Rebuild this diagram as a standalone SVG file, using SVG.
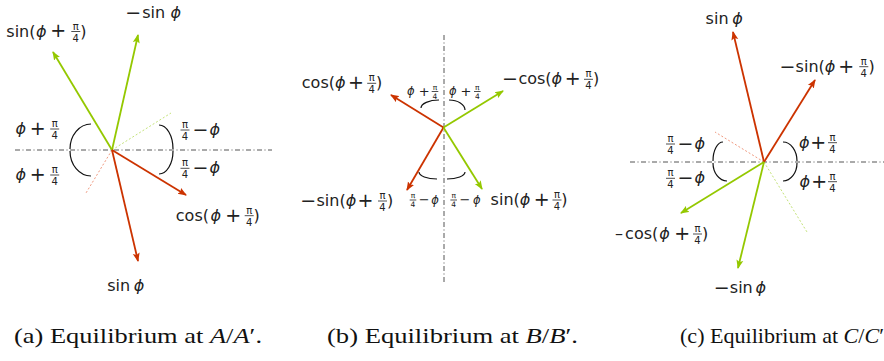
<svg xmlns="http://www.w3.org/2000/svg" width="884" height="361" viewBox="0 0 884 361">
<style>
.t{font-family:"DejaVu Sans",sans-serif;fill:#222;font-size:16px}
.i{font-style:italic}
.op{font-size:19px;text-anchor:middle}
.fr{font-size:10px;text-anchor:middle}
.st{font-size:11.5px}
.sop{font-size:13px;text-anchor:middle}
.sfr{font-size:7.5px;text-anchor:middle}
.bar{stroke:#222;stroke-width:0.8}
.axis{stroke:#555;stroke-width:1;stroke-dasharray:5 2.5 1 2.5;fill:none}
.r{stroke:#cc3300;stroke-width:1.8;fill:none;marker-end:url(#hr)}
.g{stroke:#94c800;stroke-width:1.8;fill:none;marker-end:url(#hg)}
.dr{stroke:#f09a80;stroke-width:1;stroke-dasharray:2 2;fill:none}
.dg{stroke:#c4e37a;stroke-width:1;stroke-dasharray:2 2;fill:none}
.arc{stroke:#111;stroke-width:1.2;fill:none}
.cap{font-family:"Liberation Serif",serif;font-size:22px;fill:#111}
</style>
<defs>
<marker id="hr" markerUnits="userSpaceOnUse" markerWidth="10" markerHeight="8" refX="8" refY="3.5" orient="auto" viewBox="0 0 10 7"><path d="M0,0 L9,3.5 L0,7 L1.8,3.5 z" fill="#cc3300"/></marker>
<marker id="hg" markerUnits="userSpaceOnUse" markerWidth="10" markerHeight="8" refX="8" refY="3.5" orient="auto" viewBox="0 0 10 7"><path d="M0,0 L9,3.5 L0,7 L1.8,3.5 z" fill="#94c800"/></marker>
</defs>

<!-- Panel A -->
<g id="panel-a">
<g id="a-guides">
<line class="axis" x1="15" y1="150" x2="272" y2="150"/>
<line class="dg" x1="112" y1="150" x2="171" y2="113"/>
<line class="dr" x1="112" y1="150" x2="86" y2="193"/>
<path class="arc" d="M91,124 A21,25 0 0 0 70,149"/>
<path class="arc" d="M70,151 A21,25 0 0 0 91,176"/>
<path class="arc" d="M159,125 A14,24 0 0 1 173,149"/>
<path class="arc" d="M173,151 A14,23 0 0 1 159,174"/>
</g>
<g id="a-connectors">
<line class="g" x1="112" y1="150" x2="53" y2="52"/>
<line class="g" x1="112" y1="150" x2="138" y2="35"/>
<line class="r" x1="112" y1="150" x2="186" y2="195"/>
<line class="r" x1="112" y1="150" x2="138" y2="261"/>
</g>
<g id="a-lbl-sin-phi-pi4">
<text class="t" x="6.3" y="36.5">sin(<tspan class="i" dx="0.5">ϕ</tspan></text><text class="t op" x="58.3" y="37.45">+</text>
<text class="t fr" x="75.8" y="29.5">π</text><line class="bar" x1="71.3" y1="31.5" x2="80.3" y2="31.5"/><text class="t fr" x="75.8" y="41.5">4</text>
<text class="t" x="80.3" y="36.5">)</text>
</g>
<g id="a-lbl-neg-sin-phi">
<text class="t op" x="133.3" y="18.95">−</text><text class="t" x="142.2" y="18">sin</text><text class="t i" x="170.5" y="18">ϕ</text>
</g>
<g id="a-lbl-angle-ul">
<text class="t i" x="15.5" y="134">ϕ</text><text class="t op" x="37.8" y="134.95">+</text>
<text class="t fr" x="54.7" y="127">π</text><line class="bar" x1="50.2" y1="129" x2="59.2" y2="129"/><text class="t fr" x="54.7" y="139">4</text>
</g>
<g id="a-lbl-angle-ll">
<text class="t i" x="15.5" y="180">ϕ</text><text class="t op" x="37.8" y="180.95">+</text>
<text class="t fr" x="54.7" y="173">π</text><line class="bar" x1="50.2" y1="175" x2="59.2" y2="175"/><text class="t fr" x="54.7" y="185">4</text>
</g>
<g id="a-lbl-angle-ur">
<text class="t fr" x="185" y="128">π</text><line class="bar" x1="180.5" y1="130" x2="189.5" y2="130"/><text class="t fr" x="185" y="140">4</text>
<text class="t op" x="200.5" y="135.95">−</text><text class="t i" x="209.5" y="135">ϕ</text>
</g>
<g id="a-lbl-angle-lr">
<text class="t fr" x="185" y="166.3">π</text><line class="bar" x1="180.5" y1="168.3" x2="189.5" y2="168.3"/><text class="t fr" x="185" y="178.3">4</text>
<text class="t op" x="200.5" y="174.25">−</text><text class="t i" x="209.5" y="173.3">ϕ</text>
</g>
<g id="a-lbl-cos-phi-pi4">
<text class="t" x="175.8" y="220.7">cos(<tspan class="i" dx="1.5">ϕ</tspan></text><text class="t op" x="233.3" y="221.65">+</text>
<text class="t fr" x="249.2" y="213.7">π</text><line class="bar" x1="244.7" y1="215.7" x2="253.7" y2="215.7"/><text class="t fr" x="249.2" y="225.7">4</text>
<text class="t" x="253.6" y="220.7">)</text>
</g>
<g id="a-lbl-sin-phi">
<text class="t" x="107.2" y="290.5">sin</text><text class="t i" x="133.8" y="290.5">ϕ</text>
</g>
</g>

<!-- Panel B -->
<g id="panel-b">
<g id="b-guides">
<line class="axis" x1="444" y1="35" x2="444" y2="283"/>
<path class="arc" d="M421,108 A18,8 0 0 1 439,100"/>
<path class="arc" d="M449,100 A16,10 0 0 1 465,110"/>
<path class="arc" d="M419,172 A18,7 0 0 0 437,179"/>
<path class="arc" d="M447,179 A18,7 0 0 0 465,172"/>
</g>
<g id="b-connectors">
<line class="r" x1="443.5" y1="127.5" x2="391" y2="95"/>
<line class="g" x1="443.5" y1="127.5" x2="503" y2="91"/>
<line class="r" x1="443.5" y1="127.5" x2="407" y2="190"/>
<line class="g" x1="443.5" y1="127.5" x2="482" y2="189"/>
</g>
<g id="b-lbl-cos-phi-pi4">
<text class="t" x="301.8" y="88.3">cos(<tspan class="i">ϕ</tspan></text><text class="t op" x="356" y="89.25">+</text>
<text class="t fr" x="371.7" y="81.3">π</text><line class="bar" x1="367.2" y1="83.3" x2="376.2" y2="83.3"/><text class="t fr" x="371.7" y="93.3">4</text>
<text class="t" x="376" y="88.3">)</text>
</g>
<g id="b-lbl-angle-ul">
<text class="t st i" x="407" y="95">ϕ</text><text class="t sop" x="424.3" y="95.6">+</text>
<text class="t sfr" x="435" y="89.7">π</text><line class="bar" x1="431.7" y1="91.5" x2="438.3" y2="91.5"/><text class="t sfr" x="435" y="98.6">4</text>
</g>
<g id="b-lbl-angle-ur">
<text class="t st i" x="449" y="95">ϕ</text><text class="t sop" x="466" y="95.6">+</text>
<text class="t sfr" x="477.3" y="89.7">π</text><line class="bar" x1="474" y1="91.5" x2="480.6" y2="91.5"/><text class="t sfr" x="477.3" y="98.6">4</text>
</g>
<g id="b-lbl-neg-cos-phi-pi4">
<text class="t op" x="510" y="85.25">−</text><text class="t" x="518.4" y="84.3">cos(<tspan class="i">ϕ</tspan></text><text class="t op" x="572.7" y="85.25">+</text>
<text class="t fr" x="588.5" y="77.3">π</text><line class="bar" x1="584" y1="79.3" x2="593" y2="79.3"/><text class="t fr" x="588.5" y="89.3">4</text>
<text class="t" x="593" y="84.3">)</text>
</g>
<g id="b-lbl-neg-sin-phi-pi4">
<text class="t op" x="308.3" y="206.95">−</text><text class="t" x="316.5" y="206">sin(<tspan class="i">ϕ</tspan></text><text class="t op" x="365.5" y="206.95">+</text>
<text class="t fr" x="382.5" y="199">π</text><line class="bar" x1="378" y1="201" x2="387" y2="201"/><text class="t fr" x="382.5" y="211">4</text>
<text class="t" x="387" y="206">)</text>
</g>
<g id="b-lbl-angle-ll">
<text class="t sfr" x="413" y="198.2">π</text><line class="bar" x1="409.7" y1="200" x2="416.3" y2="200"/><text class="t sfr" x="413" y="207.1">4</text>
<text class="t sop" x="424.2" y="204.1">−</text><text class="t st i" x="431.3" y="203.5">ϕ</text>
</g>
<g id="b-lbl-angle-lr">
<text class="t sfr" x="453.7" y="198.2">π</text><line class="bar" x1="450.4" y1="200" x2="457" y2="200"/><text class="t sfr" x="453.7" y="207.1">4</text>
<text class="t sop" x="465" y="204.1">−</text><text class="t st i" x="473" y="203.5">ϕ</text>
</g>
<g id="b-lbl-sin-phi-pi4">
<text class="t" x="490.6" y="205">sin(<tspan class="i">ϕ</tspan></text><text class="t op" x="541.7" y="205.95">+</text>
<text class="t fr" x="557" y="198">π</text><line class="bar" x1="552.5" y1="200" x2="561.5" y2="200"/><text class="t fr" x="557" y="210">4</text>
<text class="t" x="561.3" y="205">)</text>
</g>
</g>

<!-- Panel C -->
<g id="panel-c">
<g id="c-guides">
<line class="axis" x1="630" y1="162" x2="884" y2="162"/>
<line class="dr" x1="764" y1="162" x2="715" y2="132"/>
<line class="dg" x1="764" y1="162" x2="807" y2="232"/>
<path class="arc" d="M723,142 A10,19 0 0 0 713,161"/>
<path class="arc" d="M713,163 A14,18 0 0 0 727,181"/>
<path class="arc" d="M783,142 A14,19 0 0 1 797,161"/>
<path class="arc" d="M797,163 A14,18 0 0 1 783,181"/>
</g>
<g id="c-connectors">
<line class="r" x1="764" y1="162" x2="733" y2="32"/>
<line class="r" x1="764" y1="162" x2="815" y2="80"/>
<line class="g" x1="764" y1="162" x2="681" y2="213"/>
<line class="g" x1="764" y1="162" x2="738" y2="268"/>
</g>
<g id="c-lbl-sin-phi">
<text class="t" x="705.6" y="24">sin</text><text class="t i" x="732.3" y="24">ϕ</text>
</g>
<g id="c-lbl-neg-sin-phi-pi4">
<text class="t op" x="787.5" y="72.65">−</text><text class="t" x="795.6" y="71.7">sin(<tspan class="i">ϕ</tspan></text><text class="t op" x="846.3" y="72.65">+</text>
<text class="t fr" x="863.8" y="64.7">π</text><line class="bar" x1="859.3" y1="66.7" x2="868.3" y2="66.7"/><text class="t fr" x="863.8" y="76.7">4</text>
<text class="t" x="868.6" y="71.7">)</text>
</g>
<g id="c-lbl-angle-ul">
<text class="t fr" x="670.5" y="142">π</text><line class="bar" x1="666" y1="144" x2="675" y2="144"/><text class="t fr" x="670.5" y="154">4</text>
<text class="t op" x="685.5" y="149.95">−</text><text class="t i" x="694.5" y="149">ϕ</text>
</g>
<g id="c-lbl-angle-ur">
<text class="t i" x="799" y="147.7">ϕ</text><text class="t op" x="818.3" y="148.65">+</text>
<text class="t fr" x="832.5" y="140.7">π</text><line class="bar" x1="828" y1="142.7" x2="837" y2="142.7"/><text class="t fr" x="832.5" y="152.7">4</text>
</g>
<g id="c-lbl-angle-ll">
<text class="t fr" x="670.5" y="176.3">π</text><line class="bar" x1="666" y1="178.3" x2="675" y2="178.3"/><text class="t fr" x="670.5" y="188.3">4</text>
<text class="t op" x="685.5" y="184.25">−</text><text class="t i" x="694.5" y="183.3">ϕ</text>
</g>
<g id="c-lbl-angle-lr">
<text class="t i" x="799.5" y="186.7">ϕ</text><text class="t op" x="819.3" y="187.65">+</text>
<text class="t fr" x="832.5" y="179.7">π</text><line class="bar" x1="828" y1="181.7" x2="837" y2="181.7"/><text class="t fr" x="832.5" y="191.7">4</text>
</g>
<g id="c-lbl-neg-cos-phi-pi4">
<text class="t" x="619" y="239" text-anchor="middle">–</text><text class="t" x="625.1" y="239">cos(<tspan class="i" dx="1">ϕ</tspan></text><text class="t op" x="682.2" y="239.95">+</text>
<text class="t fr" x="697.5" y="232">π</text><line class="bar" x1="693" y1="234" x2="702" y2="234"/><text class="t fr" x="697.5" y="244">4</text>
<text class="t" x="702" y="239">)</text>
</g>
<g id="c-lbl-neg-sin-phi">
<text class="t op" x="721.7" y="294.25">−</text><text class="t" x="729.8" y="293.3">sin</text><text class="t i" x="755.5" y="293.3">ϕ</text>
</g>
</g>

<g id="captions">
<text class="cap" x="14" y="343" textLength="248" lengthAdjust="spacingAndGlyphs">(a) Equilibrium at <tspan font-style="italic">A</tspan>/<tspan font-style="italic">A</tspan>′.</text>
<text class="cap" x="327" y="343" textLength="251" lengthAdjust="spacingAndGlyphs">(b) Equilibrium at <tspan font-style="italic">B</tspan>/<tspan font-style="italic">B</tspan>′.</text>
<text class="cap" x="680" y="343" textLength="204" lengthAdjust="spacingAndGlyphs">(c) Equilibrium at <tspan font-style="italic">C</tspan>/<tspan font-style="italic">C</tspan>′</text>
</g>
</svg>
